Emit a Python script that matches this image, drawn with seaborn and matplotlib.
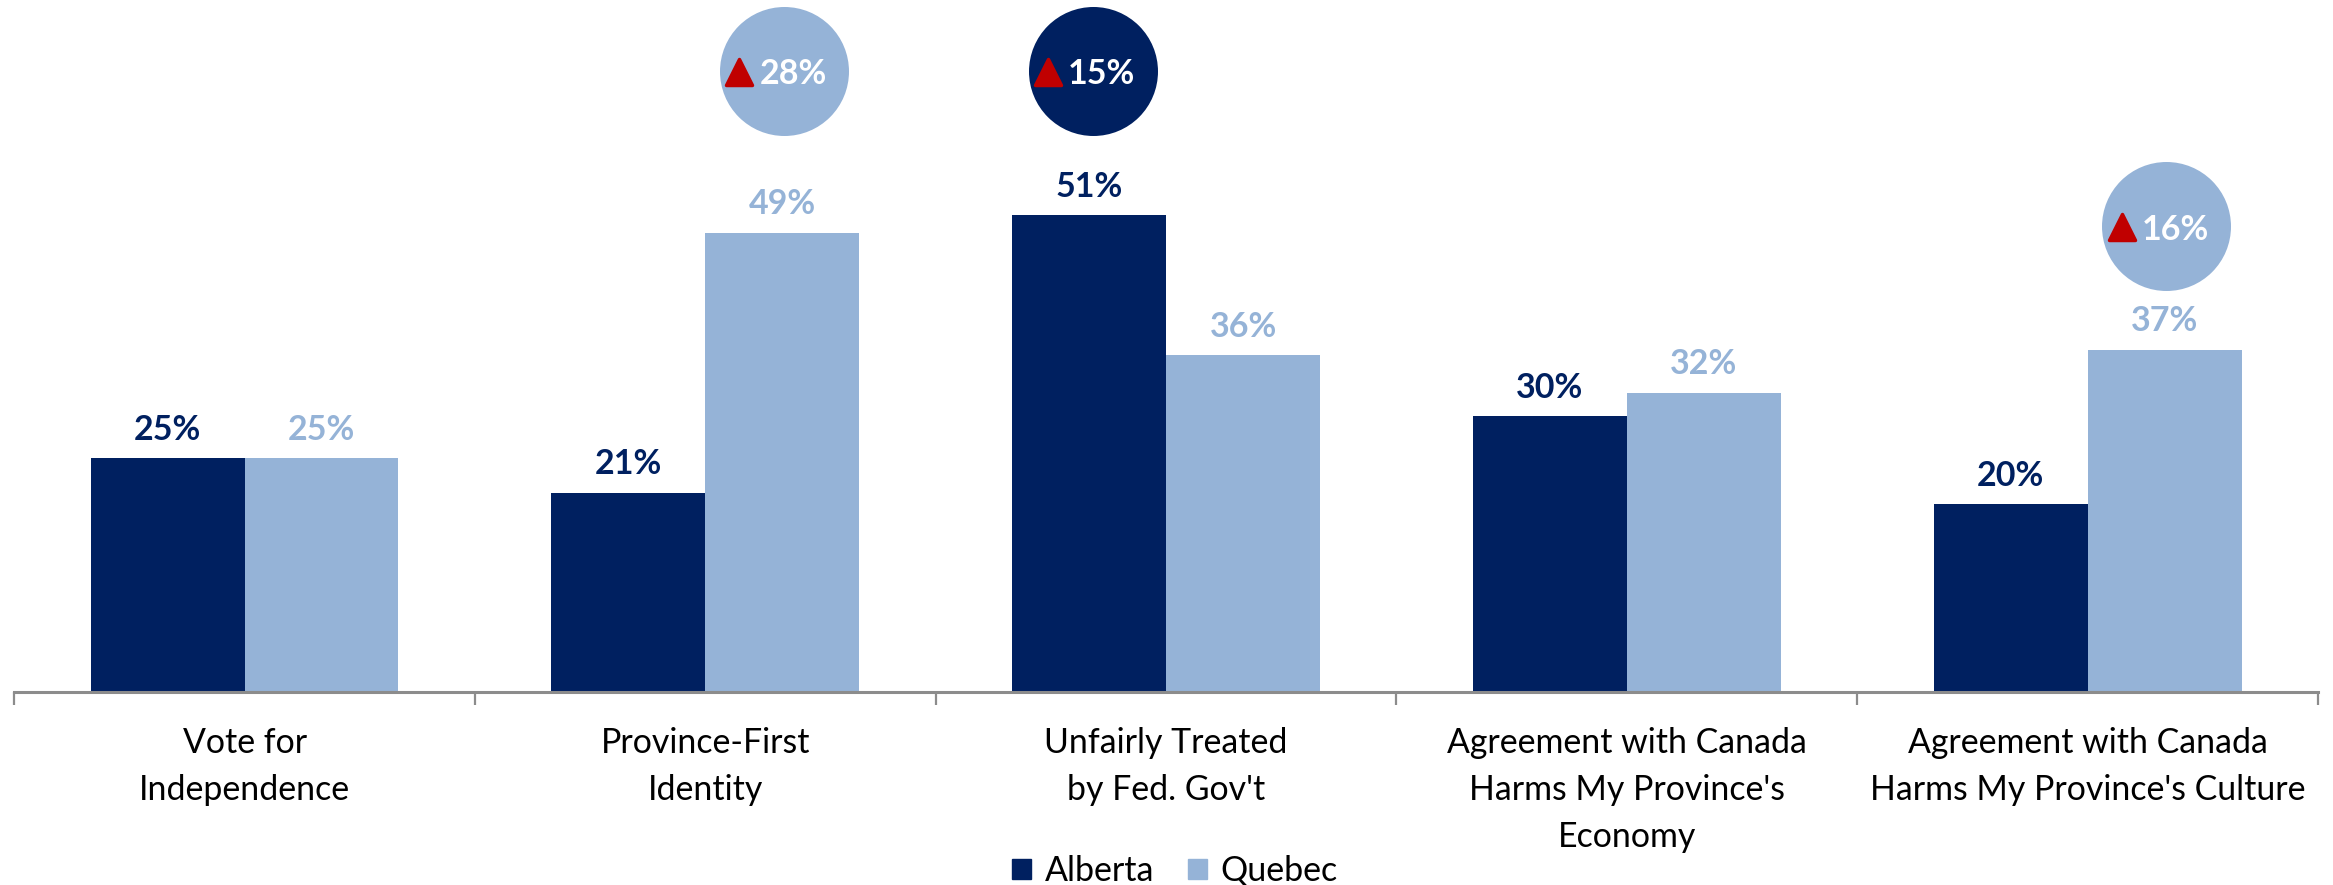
import matplotlib
matplotlib.use("Agg")
import matplotlib.pyplot as plt
import seaborn as sns
import pandas as pd

categories = ["Vote for\nIndependence", "Province-First\nIdentity", "Unfairly Treated\nby Fed. Gov't",
              "Agreement with Canada\nHarms My Province's\nEconomy",
              "Agreement with Canada\nHarms My Province's Culture"]
alberta = [25, 21.3, 51, 29.5, 20.1]
quebec = [25, 49.1, 36, 32, 36.6]
series_names = ["Alberta", "Quebec"]

# change bubbles: category index, series, label
bubble_cats = [1, 2, 4]
bubble_series = ["Quebec", "Alberta", "Quebec"]
bubble_labels = ["28%", "15%", "16%"]
bubble_y = [66.4, 66.4, 49.8]

NAVY = "#002060"
LIGHT = "#95B3D7"
RED = "#C00000"
W, H = 2333, 885
PX = 0.72  # points per pixel at dpi 100

sns.set_theme(style="white")
plt.rcParams["font.family"] = ["Lato", "DejaVu Sans"]

df = pd.DataFrame({
    "category": categories * 2,
    "series": [series_names[0]] * 5 + [series_names[1]] * 5,
    "value": alberta + quebec,
})
colors = {series_names[0]: NAVY, series_names[1]: LIGHT}

fig = plt.figure(figsize=(W / 100, H / 100), dpi=100)
ax = fig.add_axes([14.2 / W, 1 - 692 / H, (2318 - 14.2) / W, 692 / H])

sns.barplot(data=df, x="category", y="value", hue="series", palette=colors,
            width=0.668, gap=0, saturation=1, legend=False, linewidth=0, ax=ax)
ax.set_xlim(-0.5, 4.5)
ax.set_ylim(0, 692 / 9.35)

for cont, col, vals in zip(ax.containers, [NAVY, LIGHT], [alberta, quebec]):
    ax.bar_label(cont, labels=[f"{v:.0f}%" for v in vals], color=col, fontsize=24.5,
                 fontweight="bold", padding=9)

# bubbles with the change vs earlier wave
half_bar = 0.668 / 4
for cat, ser, lab, y in zip(bubble_cats, bubble_series, bubble_labels, bubble_y):
    x = cat + (half_bar if ser == "Quebec" else -half_bar + 0.004) + 0.004
    ax.scatter([x], [y], s=(129 * PX) ** 2, color=colors[ser], linewidths=0, zorder=3, clip_on=False)
    ax.scatter([x - 0.097], [y - 0.05], s=(26 * PX) ** 2, marker="^", color=RED, edgecolors=RED,
               linewidths=2.5, joinstyle="round", zorder=4)
    ax.text(x + 0.019, y - 0.35, lab, color="white", fontsize=24.5, fontweight="bold",
            ha="center", va="center", zorder=5)

sns.despine(ax=ax, left=True)
ax.spines["bottom"].set_color("#8c8c8c")
ax.spines["bottom"].set_linewidth(2.2)
ax.set_yticks([])
ax.set_xlabel("")
ax.set_ylabel("")
ax.set_xticks(range(5))
ax.set_xticklabels(categories, fontsize=24.4, color="black", linespacing=1.58)
ax.tick_params(axis="x", which="major", length=0, pad=25)
ax.set_xticks([i - 0.5 for i in range(6)], minor=True)
ax.tick_params(axis="x", which="minor", bottom=True, length=9, width=1.6, color="#8c8c8c")

handles = [plt.Rectangle((0, 0), 1, 1, color=colors[s]) for s in series_names]
fig.legend(handles, series_names, loc="center", bbox_to_anchor=(1175 / W, 1 - 871 / H), ncol=2,
           frameon=False, fontsize=24.5, handlelength=0.55, handleheight=0.55,
           handletextpad=0.4, columnspacing=1.0, borderpad=0, labelcolor="black")

fig.savefig("out.png", dpi=100, facecolor="white")
